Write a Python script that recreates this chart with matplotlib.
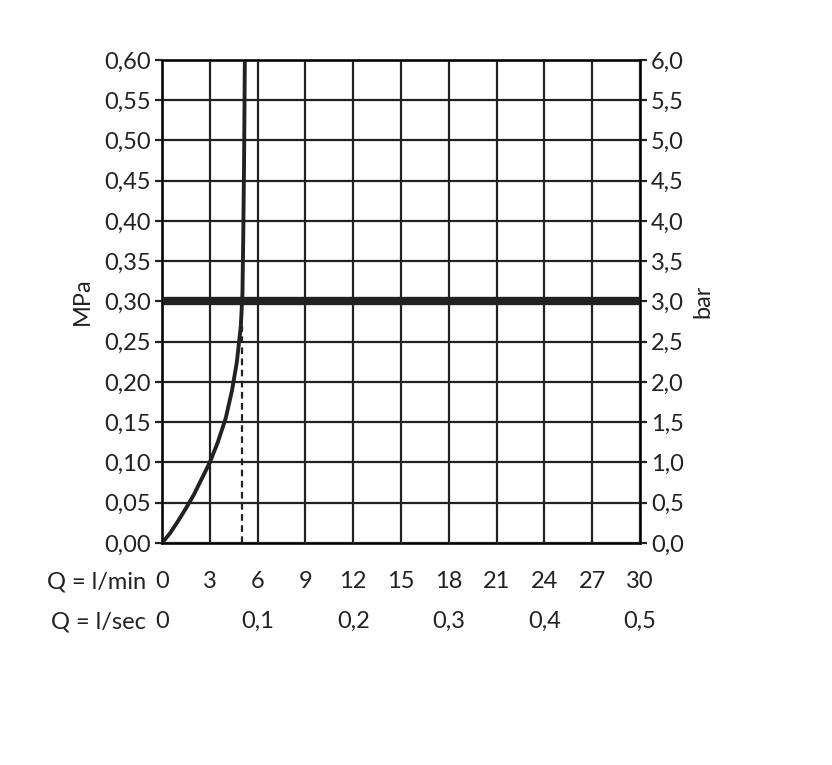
import matplotlib
matplotlib.use("Agg")
import matplotlib.pyplot as plt
import numpy as np

plt.rcParams['font.family'] = ['Lato', 'DejaVu Sans']

curve_q = [0, 0.5, 1, 1.5, 2, 2.5, 3, 3.5, 4, 4.4, 4.7, 4.95, 5.05, 5.1, 5.15, 5.2]
curve_p = [0, 0.012, 0.027, 0.043, 0.06, 0.08, 0.10, 0.125, 0.155, 0.19, 0.225, 0.27, 0.31, 0.38, 0.47, 0.60]
limit_p = 0.30
flow_q = 5.0
lmin_ticks = [0, 3, 6, 9, 12, 15, 18, 21, 24, 27, 30]
lsec_labels = ["0", "0,1", "0,2", "0,3", "0,4", "0,5"]
mpa_ticks = np.round(np.arange(0, 0.61, 0.05), 2)

fig = plt.figure(figsize=(8.32, 7.65), dpi=100)
ax = fig.add_axes([0.1947, 0.2902, 0.5745, 0.6314])
ax.set_xlim(0, 30)
ax.set_ylim(0, 0.6)
for q in lmin_ticks:
    ax.axvline(q, color='#222', lw=1.6, zorder=1)
for p in mpa_ticks:
    ax.axhline(p, color='#222', lw=1.6, zorder=1)
ax.axhline(limit_p, color='#222', lw=6, zorder=2)
ax.plot(curve_q, curve_p, color='#222', lw=2.8, zorder=3)
ax.plot([flow_q, flow_q], [0, 0.27], color='#222', lw=1.6, ls=(0, (3, 2)), zorder=3)
for s in ax.spines.values():
    s.set_linewidth(2)
    s.set_color('#222')

fs = 17
ax.set_xticks([])
ax.set_yticks(mpa_ticks)
ax.set_yticklabels([f"{v:.2f}".replace('.', ',') for v in mpa_ticks], fontsize=fs, color='#222')
ax.tick_params(axis='y', length=5, width=1.6, colors='#222', pad=3)
ax.set_ylabel("MPa", fontsize=fs, color='#222', labelpad=8)

ax2 = ax.twinx()
ax2.set_ylim(0, 6)
bar_ticks = np.round(np.arange(0, 6.01, 0.5), 1)
ax2.set_yticks(bar_ticks)
ax2.set_yticklabels([f"{v:.1f}".replace('.', ',') for v in bar_ticks], fontsize=fs, color='#222')
ax2.tick_params(axis='y', length=5, width=1.6, colors='#222', pad=3)
ax2.set_ylabel("bar", fontsize=fs, color='#222', labelpad=6)

trans = ax.get_xaxis_transform()
for q in lmin_ticks:
    ax.text(q, -0.08, str(q), transform=trans, ha='center', va='center', fontsize=fs, color='#222')
for i, lab in enumerate(lsec_labels):
    ax.text(i * 6, -0.163, lab, transform=trans, ha='center', va='center', fontsize=fs, color='#222')
ax.text(-1.0, -0.08, "Q = l/min", transform=trans, ha='right', va='center', fontsize=fs, color='#222')
ax.text(-1.0, -0.163, "Q = l/sec", transform=trans, ha='right', va='center', fontsize=fs, color='#222')

fig.savefig("out.png", dpi=100, facecolor='white')
